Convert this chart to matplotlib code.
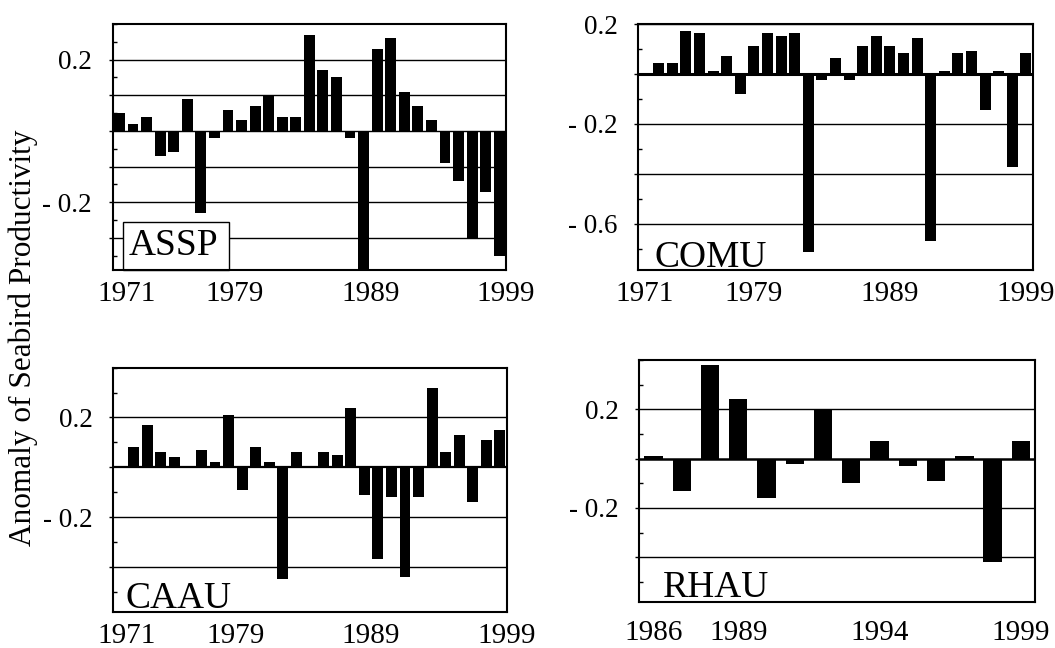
#!/usr/bin/env python3
"""
Seabird productivity anomalies for four species (ASSP, COMU, CAAU, RHAU),
drawn as a 2x2 grid of bar charts.
"""

import numpy as np
import matplotlib
matplotlib.use("Agg")
import matplotlib.pyplot as plt
from matplotlib.patches import Rectangle
from matplotlib.ticker import MultipleLocator

OUTPUT_FILE = "out.png"
W, H = 1055, 648

# Data
YEARS_LONG = list(range(1971, 2000))
YEARS_RHAU = list(range(1986, 2000))

ASSP = [0.05, 0.02, 0.04, -0.07, -0.06, 0.09, -0.23, -0.02, 0.06, 0.03,
        0.07, 0.10, 0.04, 0.04, 0.27, 0.17, 0.15, -0.02, -0.42, 0.23,
        0.26, 0.11, 0.07, 0.03, -0.09, -0.14, -0.30, -0.17, -0.35]

COMU = [np.nan, 0.044, 0.044, 0.173, 0.163, 0.013, 0.073, -0.08, 0.113, 0.163,
        0.153, 0.163, -0.713, -0.023, 0.064, -0.023, 0.113, 0.153, 0.113, 0.084,
        0.143, -0.669, 0.011, 0.084, 0.093, -0.143, 0.011, -0.371, 0.084]

CAAU = [np.nan, 0.08, 0.17, 0.06, 0.04, 0.0, 0.07, 0.02, 0.21, -0.09,
        0.08, 0.02, -0.45, 0.06, 0.0, 0.06, 0.05, 0.24, -0.11, -0.37,
        -0.12, -0.44, -0.12, 0.32, 0.06, 0.13, -0.14, 0.11, 0.15]

RHAU = [0.01, -0.13, 0.38, 0.24, -0.16, -0.02, 0.20, -0.10, 0.07, -0.03,
        -0.09, 0.01, -0.42, 0.07]

TICKS_LONG = [1971, 1979, 1989, 1999]
TICKS_RHAU = [1986, 1989, 1994, 1999]

plt.rcParams['font.family'] = ['Liberation Serif', 'DejaVu Serif']


def axes_px(fig, left, top, right, bottom):
    """Add an axes placed by pixel edges."""
    return fig.add_axes([left / W, 1 - bottom / H, (right - left) / W, (bottom - top) / H])


def tick_text(v):
    if abs(v) < 1e-9:
        return "0"
    s = f"{abs(v):.1f}"
    return s if v > 0 else "- " + s


def draw_panel(ax, years, values, name, ylim, grid, labeled, minor,
               tick_years, tick_shift, width, name_xy, zero_lw=1.0,
               boxed=None, xpad=8):
    x = np.arange(len(years))
    ax.bar(x, values, width=width, color="black", zorder=3)
    ax.set_xlim(-0.5, len(years) - 0.5)
    ax.set_ylim(*ylim)

    # Horizontal gridlines
    for g in grid:
        ax.axhline(g, color="black", lw=zero_lw if g == 0 else 1.0, zorder=2)

    # Y axis: labels only on some gridlines
    ax.set_yticks(grid)
    ax.set_yticklabels([tick_text(g) if round(g, 2) in labeled else "" for g in grid])
    ax.yaxis.set_minor_locator(MultipleLocator(minor))
    ax.tick_params(axis="y", which="major", direction="out", length=3, width=1,
                   labelsize=19.5, pad=12)
    ax.tick_params(axis="y", which="minor", direction="in", length=3, width=1)
    for lbl in ax.get_yticklabels():
        lbl.set_verticalalignment("center_baseline")

    # X axis: a few year labels
    ax.set_xticks([years.index(y) + tick_shift for y in tick_years])
    ax.set_xticklabels([str(y) for y in tick_years])
    ax.tick_params(axis="x", length=0, labelsize=21, pad=xpad)

    for spine in ax.spines.values():
        spine.set_linewidth(1.5)
        spine.set_zorder(4)

    if boxed is not None:
        ax.add_patch(Rectangle(boxed[:2], boxed[2], boxed[3], transform=ax.transAxes,
                               facecolor="white", edgecolor="black", lw=1.0,
                               zorder=4, clip_on=False))
    ax.text(name_xy[0], name_xy[1], name, transform=ax.transAxes,
            fontsize=27, ha="left", va="baseline", zorder=5)


def generate_graph():
    fig = plt.figure(figsize=(W / 100, H / 100), dpi=100)

    ax1 = axes_px(fig, 112.7, 24, 506, 270)
    draw_panel(ax1, YEARS_LONG, ASSP, "ASSP", (-0.39, 0.3),
               [0.2, 0.1, 0.0, -0.1, -0.2, -0.3], {0.2, -0.2}, 0.05,
               TICKS_LONG, 0.5, 0.8, (0.041, 0.061),
               boxed=(0.026, 0.0, 0.27, 0.196))

    ax2 = axes_px(fig, 638.3, 24, 1032.7, 270)
    draw_panel(ax2, YEARS_LONG, COMU, "COMU", (-0.785, 0.2),
               [0.2, 0.0, -0.2, -0.4, -0.6], {0.2, -0.2, -0.6}, 0.1,
               TICKS_LONG, 0.0, 0.8, (0.04, 0.013), zero_lw=2.2)

    ax3 = axes_px(fig, 113.3, 367.7, 506.7, 611.7)
    draw_panel(ax3, YEARS_LONG, CAAU, "CAAU", (-0.58, 0.4),
               [0.2, 0.0, -0.2, -0.4], {0.2, -0.2}, 0.1,
               TICKS_LONG, 0.5, 0.8, (0.032, 0.015), zero_lw=1.6)

    ax4 = axes_px(fig, 639.3, 360, 1035, 601.7)
    draw_panel(ax4, YEARS_RHAU, RHAU, "RHAU", (-0.58, 0.4),
               [0.2, 0.0, -0.2, -0.4], {0.2, -0.2}, 0.1,
               TICKS_RHAU, 0.0, 0.65, (0.06, 0.021), zero_lw=1.8, xpad=13)

    fig.text(23 / W, 1 - 338 / H, "Anomaly of Seabird Productivity",
             rotation=90, ha="center", va="center", fontsize=22.5)

    fig.savefig(OUTPUT_FILE, dpi=100)


if __name__ == "__main__":
    generate_graph()
